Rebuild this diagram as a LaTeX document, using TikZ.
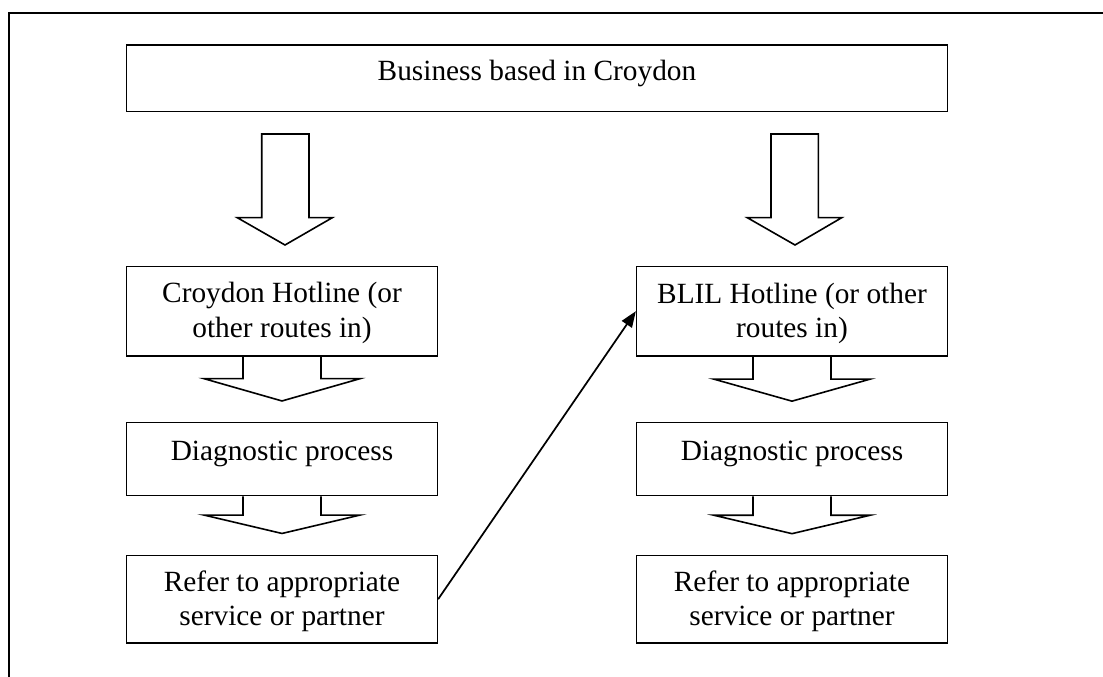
\documentclass[tikz,border=0pt]{standalone}
\usepackage{fontspec}
\setmainfont{Liberation Serif}
\usetikzlibrary{arrows.meta,calc}
\newcommand\dropArrow[3]{%
  \draw[blockarrow] ($(#1.south)+(-39,0)$) -- ++(0,#2) -- ++(-39,0) -- ++(78,#3) -- ++(78,-#3) -- ++(-39,0) -- ++(0,-#2);}
\begin{document}
\begin{tikzpicture}[x=0.75pt,y=-0.75pt,
  box/.style={draw,line width=1.2pt,minimum width=233pt,inner sep=0pt},
  lbl/.style={font=\fontsize{22}{25.5}\selectfont,align=center,anchor=base,inner sep=0pt},
  blockarrow/.style={draw,line width=1.2pt,line join=miter},
  frame/.style={line width=1.5pt},
  conn/.style={line width=1.3pt,-{Triangle[length=12pt,width=9pt]}}]
\useasboundingbox (0,0) rectangle (1103,677);
\draw[frame] (9,677) -- (9,13) -- (1103,13);
% boxes
\node[box,minimum width=615.5pt,minimum height=50pt] (top) at (537,78.35) {};
\node[box,minimum height=67pt] (croyH) at (282,311.2) {};
\node[box,minimum height=55pt] (diagL) at (282,459) {};
\node[box,minimum height=65.5pt] (refL) at (282,599.2) {};
\node[box,minimum height=67pt] (blil) at (792,311.2) {};
\node[box,minimum height=55pt] (diagR) at (792,459) {};
\node[box,minimum height=65.5pt] (refR) at (792,599.2) {};
% labels (base = baseline of last line)
\node[lbl] (t0) at (537,81) {Business based in Croydon};
\node[lbl] (t1) at (282,337) {Croydon Hotline (or\\other routes in)};
\node[lbl] (t2) at (282,460.5) {Diagnostic process};
\node[lbl] (t3) at (282,625) {Refer to appropriate\\service or partner};
\node[lbl] (t4) at (792,337.5) {BLIL Hotline (or other\\routes in)};
\node[lbl] (t5) at (792,460.5) {Diagnostic process};
\node[lbl] (t6) at (792,625) {Refer to appropriate\\service or partner};
% big block arrows
\draw[blockarrow] (261.7,134) -- (261.7,217.7) -- (237.3,217.7) -- (285,245) -- (332.3,217.7) -- (309,217.7) -- (309,134) -- cycle;
\draw[blockarrow] (771,134) -- (771,217.7) -- (747.3,217.7) -- (795,245) -- (841.7,217.7) -- (818.3,217.7) -- (818.3,134) -- cycle;
% small block arrows
\dropArrow{croyH}{22}{22.3}
\dropArrow{diagL}{18.6}{18.4}
\dropArrow{blil}{22.5}{22}
\dropArrow{diagR}{18.8}{18.4}
% connector
\draw[conn] (refL.east) -- (blil.west);
\end{tikzpicture}
\end{document}
